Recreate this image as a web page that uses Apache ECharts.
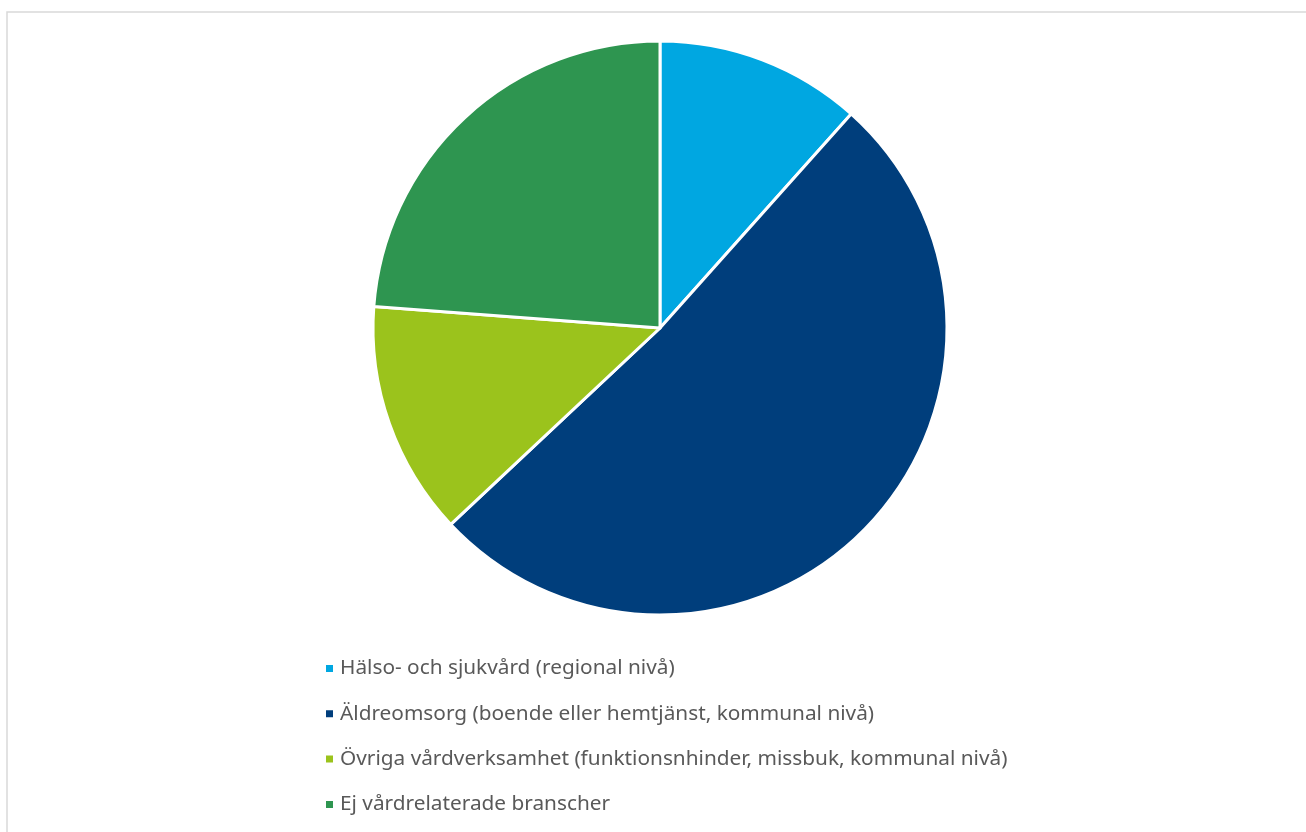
<!DOCTYPE html>
<html>
<head>
<meta charset="utf-8">
<script src="https://cdn.jsdelivr.net/npm/echarts@6/dist/echarts.min.js"></script>
<style>
  html, body { margin: 0; padding: 0; background: #ffffff; }
  #chart { width: 1306px; height: 832px; }
</style>
</head>
<body>
<div id="chart"></div>
<script>
// Sector shares (percent)
const categories = [
  'Hälso- och sjukvård (regional nivå)',
  'Äldreomsorg (boende eller hemtjänst, kommunal nivå)',
  'Övriga vårdverksamhet (funktionsnhinder, missbuk, kommunal nivå)',
  'Ej vårdrelaterade branscher'
];
const shares = [11.6, 51.4, 13.2, 23.8];
const colors = ['#00a7e1', '#003e7c', '#9bc31c', '#2e9550'];

const chart = echarts.init(document.getElementById('chart'));
chart.setOption({
  animation: false,
  color: colors,
  graphic: [{
    type: 'rect',
    shape: { x: 7, y: 12, width: 1320, height: 840 },
    style: { fill: 'none', stroke: '#d9d9d9', lineWidth: 1.5 },
    silent: true
  }],
  legend: {
    orient: 'vertical',
    left: 319,
    top: 653,
    itemWidth: 9,
    itemHeight: 9,
    itemGap: 24.3,
    icon: 'rect',
    textStyle: { color: '#595959', fontSize: 20.8, fontFamily: 'Noto Sans', padding: [0, 0, 0, 1] },
    data: categories
  },
  series: [{
    type: 'pie',
    center: [660, 328],
    radius: [0, 287],
    startAngle: 90,
    clockwise: true,
    label: { show: false },
    labelLine: { show: false },
    itemStyle: { borderColor: '#ffffff', borderWidth: 3 },
    data: categories.map((name, i) => ({ name, value: shares[i] }))
  }]
});
</script>
</body>
</html>
